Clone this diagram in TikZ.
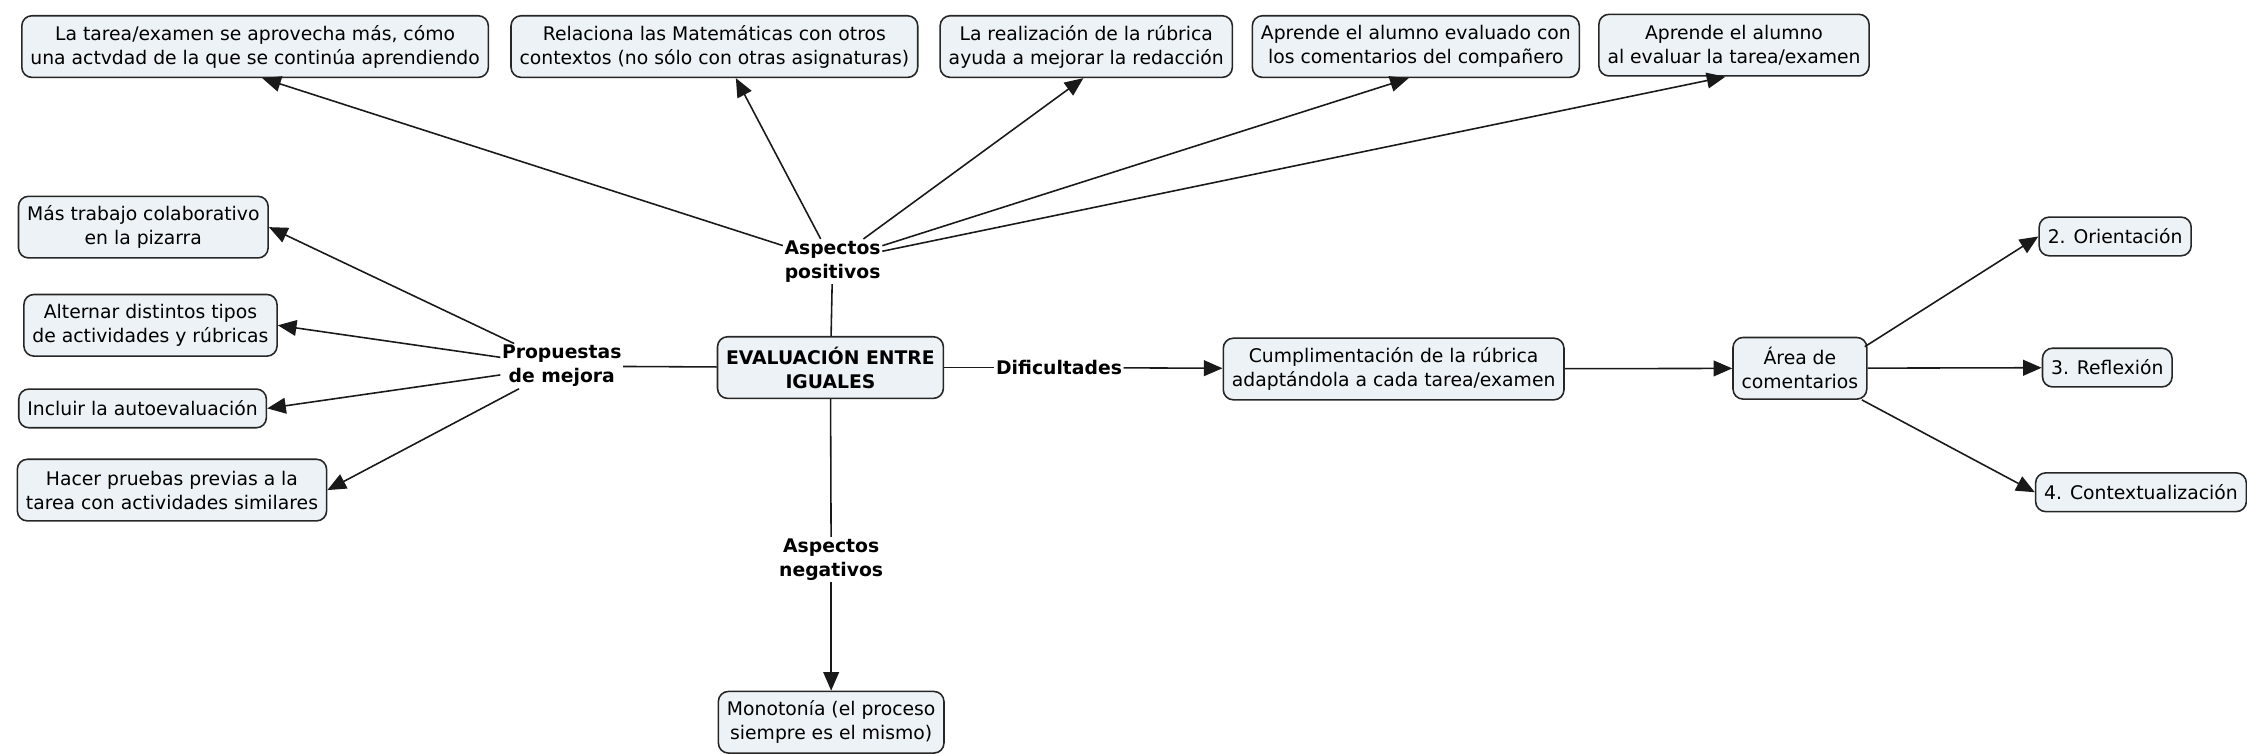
\documentclass[tikz,border=0pt]{standalone}
\usepackage{fontspec}
\setmainfont{DejaVu Sans}
\usetikzlibrary{arrows.meta,calc}
\definecolor{boxfill}{RGB}{236,242,245}
\newcommand{\fs}{\fontsize{13.1}{16.8}\selectfont}
\begin{document}
\begin{tikzpicture}[x=1pt,y=-1pt,
  box/.style={draw=black!85, line width=1.1pt, fill=boxfill, rounded corners=7pt, align=center, inner xsep=6pt, inner ysep=3pt, font=\fs},
  two/.style={box, minimum height=43pt},
  one/.style={box, minimum height=27pt},
  lab/.style={font=\fs\bfseries, align=center, inner sep=1pt},
  conn/.style={line width=1.1pt, draw=black!90},
  arr/.style={conn, -{Triangle[length=13pt,width=11pt]}}]
\useasboundingbox (0,0) rectangle (1568,526);
% top boxes
\node[two] (t1) at (178,32.5) {La tarea/examen se aprovecha más, cómo\\una actvdad de la que se continúa aprendiendo};
\node[two] (t2) at (498.5,32.5) {Relaciona las Matemáticas con otros\\contextos (no sólo con otras asignaturas)};
\node[two] (t3) at (758,32.5) {La realización de la rúbrica\\ayuda a mejorar la redacción};
\node[two] (t4) at (988,32.5) {Aprende el alumno evaluado con\\los comentarios del compañero};
\node[two] (t5) at (1210,31.5) {Aprende el alumno\\al evaluar la tarea/examen};
% left boxes
\node[two] (l1) at (100,158.5) {Más trabajo colaborativo\\en la pizarra};
\node[two] (l2) at (105,227) {Alternar distintos tipos\\de actividades y rúbricas};
\node[one] (l3) at (99.5,285) {Incluir la autoevaluación};
\node[two] (l4) at (120,342) {Hacer pruebas previas a la\\tarea con actividades similares};
% center
\node[two, font=\fs\bfseries] (c) at (579.5,256.5) {EVALUACIÓN ENTRE\\IGUALES};
\node[lab] (pos) at (581,182.5) {Aspectos\\positivos};
\node[lab] (prop) at (392,255.5) {Propuestas\\de mejora};
\node[lab] (dif) at (739,256.5) {Dificultades};
\node[lab] (neg) at (580,390.5) {Aspectos\\negativos};
\node[two] (mon) at (580,504) {Monotonía (el proceso\\siempre es el mismo)};
% right
\node[two] (cum) at (972.5,257.5) {Cumplimentación de la rúbrica\\adaptándola a cada tarea/examen};
\node[two] (ar) at (1256,257) {Área de\\comentarios};
\node[one] (o2) at (1476,165) {2. Orientación};
\node[one] (o3) at (1470.5,256.5) {3. Reflexión};
\node[one] (o4) at (1494,343.5) {4. Contextualización};
% connectors
\draw[conn] (c) -- (pos);
\draw[arr] (pos) -- ($(t1.south)+(5,0)$);
\draw[arr] (pos) -- ($(t2.south)+(15,0)$);
\draw[arr] (pos) -- ($(t3.south)+(-2,0)$);
\draw[arr] (pos) -- ($(t4.south)+(-5,0)$);
\draw[arr] (pos) -- ($(t5.south)+(-6,0)$);
\draw[conn] (prop) -- (c);
\draw[arr] (prop) -- (l1.east);
\draw[arr] (prop) -- (l2.east);
\draw[arr] (prop) -- (l3.east);
\draw[arr] (prop) -- (l4.east);
\draw[conn] (c) -- (dif);
\draw[arr] (dif) -- (cum);
\draw[arr] (cum) -- (ar);
\draw[arr] ($(ar.north east)+(-2,7)$) -- (o2.west);
\draw[arr] (ar) -- (o3);
\draw[arr] ($(ar.south east)+(-4,0)$) -- (o4.west);
\draw[conn] (c) -- (neg);
\draw[arr] (neg) -- (mon);
\end{tikzpicture}
\end{document}
